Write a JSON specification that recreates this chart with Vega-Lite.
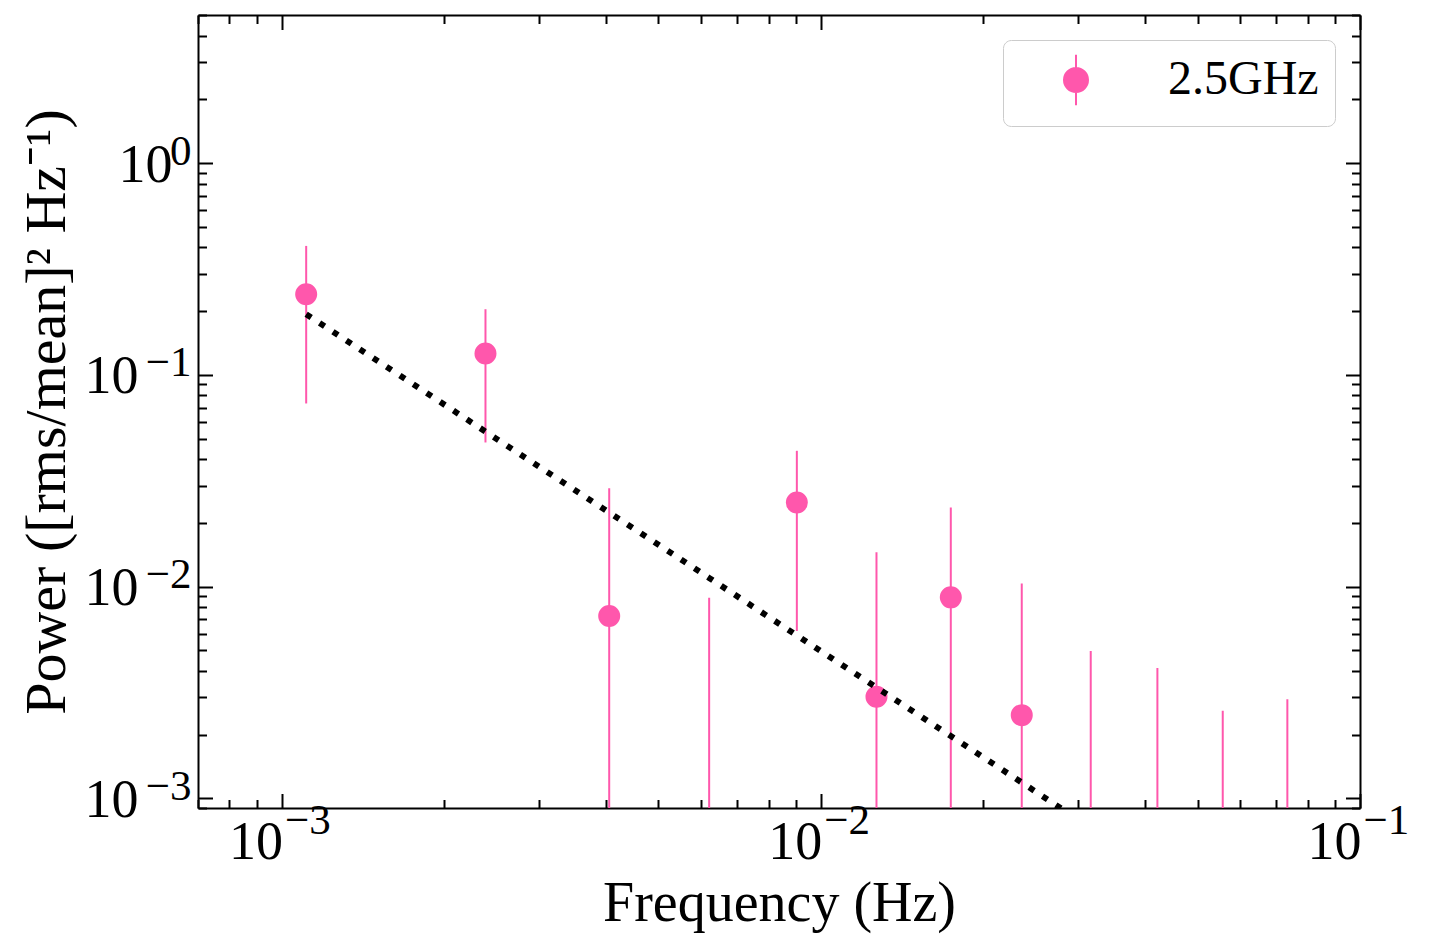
{
  "$schema": "https://vega.github.io/schema/vega-lite/v6.json",
  "autosize": {"type": "none"},
  "padding": {"left": 198, "top": 15, "right": 69, "bottom": 141},
  "width": 1162,
  "height": 793,
  "background": "white",
  "config": {
    "view": {"stroke": null},
    "axis": {
      "grid": false,
      "domainColor": "black",
      "domainWidth": 2,
      "tickColor": "black",
      "tickWidth": 2,
      "labelFont": "Liberation Serif",
      "labelColor": "black",
      "titleFont": "Liberation Serif",
      "titleColor": "black",
      "titleFontWeight": "normal",
      "labelOverlap": false,
      "labelFlush": false,
      "labelBound": false
    },
    "legend": {
      "orient": "top-right",
      "offset": 25,
      "padding": 16,
      "strokeColor": "#cccccc",
      "fillColor": "white",
      "cornerRadius": 8,
      "labelFont": "Liberation Serif",
      "labelFontSize": 48,
      "labelColor": "black",
      "labelLimit": 0,
      "symbolType": "M -1 0 A 1 1 0 1 0 1 0 A 1 1 0 1 0 -1 0 Z M 0 -2.1 L 0 2.1",
      "symbolSize": 576,
      "symbolStrokeWidth": 2,
      "symbolOffset": 33,
      "labelOffset": 68
    }
  },
  "data": {
    "values": [
      {"freq": 0.001111, "power": 0.240, "lo": 0.0732, "hi": 0.406, "model": 0.1932, "series": "2.5GHz"},
      {"freq": 0.002389, "power": 0.126, "lo": 0.0479, "hi": 0.204, "model": 0.05393, "series": "2.5GHz"},
      {"freq": 0.004052, "power": 0.00726, "lo": 0.0001, "hi": 0.0291, "model": 0.02236, "series": "2.5GHz"},
      {"freq": 0.006209, "power": null, "lo": 0.0001, "hi": 0.00886, "model": 0.01098, "series": "2.5GHz"},
      {"freq": 0.009029, "power": 0.02496, "lo": 0.00617, "hi": 0.04375, "model": 0.005883, "series": "2.5GHz"},
      {"freq": 0.012686, "power": 0.00302, "lo": 0.0001, "hi": 0.0145, "model": 0.003337, "series": "2.5GHz"},
      {"freq": 0.017424, "power": 0.00889, "lo": 0.0001, "hi": 0.02364, "model": 0.001967, "series": "2.5GHz"},
      {"freq": 0.02359, "power": 0.00247, "lo": 0.0001, "hi": 0.01035, "model": 0.001187, "series": "2.5GHz"},
      {"freq": 0.03167, "power": null, "lo": 0.0001, "hi": 0.00496, "model": 0.000726, "series": "2.5GHz"},
      {"freq": 0.0421, "power": null, "lo": 0.0001, "hi": 0.00412, "model": 0.000452, "series": "2.5GHz"},
      {"freq": 0.05565, "power": null, "lo": 0.0001, "hi": 0.00259, "model": 0.000284, "series": "2.5GHz"},
      {"freq": 0.07333, "power": null, "lo": 0.0001, "hi": 0.00294, "model": 0.000179, "series": "2.5GHz"}
    ]
  },
  "resolve": {"axis": {"x": "independent", "y": "independent"}},
  "layer": [
    {
      "mark": {"type": "rule", "color": "#FF57AC", "strokeWidth": 2, "clip": true},
      "encoding": {
        "x": {
          "field": "freq", "type": "quantitative",
          "scale": {"type": "log", "domain": [0.0007, 0.1], "nice": false},
          "axis": {
            "orient": "bottom",
            "values": [0.0007,0.0008,0.0009,0.001,0.002,0.003,0.004,0.005,0.006,0.007,0.008,0.009,0.01,0.02,0.03,0.04,0.05,0.06,0.07,0.08,0.09,0.1],
            "tickSize": {"condition": {"test": "abs(log(datum.value)/LN10 - round(log(datum.value)/LN10)) < 1e-6", "value": -14.5}, "value": -8.5},
            "labelExpr": "abs(log(datum.value)/LN10 - round(log(datum.value)/LN10)) < 1e-6 ? '10' : ''",
            "labelFontSize": 54,
            "labelAlign": "right",
            "labelBaseline": "alphabetic",
            "labelOffset": 1,
            "labelPadding": 64.5,
            "title": "Frequency (Hz)",
            "titleFontSize": 56,
            "titlePadding": 1
          }
        },
        "y": {
          "field": "hi", "type": "quantitative",
          "scale": {"type": "log", "domain": [0.0009, 5], "nice": false},
          "axis": {
            "orient": "left",
            "values": [0.0009,0.001,0.002,0.003,0.004,0.005,0.006,0.007,0.008,0.009,0.01,0.02,0.03,0.04,0.05,0.06,0.07,0.08,0.09,0.1,0.2,0.3,0.4,0.5,0.6,0.7,0.8,0.9,1,2,3,4,5],
            "tickSize": {"condition": {"test": "abs(log(datum.value)/LN10 - round(log(datum.value)/LN10)) < 1e-6", "value": -14.5}, "value": -8.5},
            "labelExpr": "abs(log(datum.value)/LN10 - round(log(datum.value)/LN10)) < 1e-6 ? '10' : ''",
            "labelFontSize": 54,
            "labelAlign": "right",
            "labelBaseline": "alphabetic",
            "labelOffset": 18,
            "labelPadding": {"condition": {"test": "abs(datum.value - 1) < 1e-9", "value": 40.5}, "value": 74.5},
            "title": "Power ([rms/mean]² Hz⁻¹)",
            "titleFontSize": 58,
            "titlePadding": 8
          }
        },
        "y2": {"field": "lo"}
      }
    },
    {
      "mark": {"type": "point", "filled": true, "size": 400, "strokeWidth": 2, "opacity": 1, "clip": true},
      "encoding": {
        "x": {
          "field": "freq", "type": "quantitative",
          "axis": {
            "orient": "bottom",
            "values": [0.001, 0.01, 0.1],
            "ticks": false, "tickSize": 0, "domain": false,
            "labelExpr": "round(log(datum.value)/LN10) < 0 ? '−' + abs(round(log(datum.value)/LN10)) : '' + round(log(datum.value)/LN10)",
            "labelFontSize": 43,
            "labelAlign": "left",
            "labelBaseline": "alphabetic",
            "labelOffset": 3,
            "labelPadding": 25,
            "title": null
          }
        },
        "y": {
          "field": "power", "type": "quantitative",
          "axis": {
            "orient": "left",
            "values": [0.001, 0.01, 0.1, 1],
            "ticks": false, "tickSize": 0, "domain": false,
            "labelExpr": "round(log(datum.value)/LN10) < 0 ? '−' + abs(round(log(datum.value)/LN10)) : '' + round(log(datum.value)/LN10)",
            "labelFontSize": 43,
            "labelAlign": "right",
            "labelBaseline": "alphabetic",
            "labelOffset": 1,
            "labelPadding": 7,
            "title": null
          }
        },
        "color": {
          "field": "series", "type": "nominal",
          "scale": {"range": ["#FF57AC"]},
          "legend": {"title": null}
        },
        "stroke": {
          "field": "series", "type": "nominal",
          "scale": {"range": ["#FF57AC"]},
          "legend": {"title": null}
        }
      }
    },
    {
      "mark": {"type": "line", "color": "black", "strokeWidth": 6, "strokeDash": [6, 10], "strokeCap": "butt", "clip": true},
      "encoding": {
        "x": {
          "field": "freq", "type": "quantitative",
          "axis": {
            "orient": "top",
            "values": [0.0007,0.0008,0.0009,0.001,0.002,0.003,0.004,0.005,0.006,0.007,0.008,0.009,0.01,0.02,0.03,0.04,0.05,0.06,0.07,0.08,0.09,0.1],
            "tickSize": {"condition": {"test": "abs(log(datum.value)/LN10 - round(log(datum.value)/LN10)) < 1e-6", "value": -14.5}, "value": -8.5},
            "labels": false,
            "title": null
          }
        },
        "y": {
          "field": "model", "type": "quantitative",
          "axis": {
            "orient": "right",
            "values": [0.0009,0.001,0.002,0.003,0.004,0.005,0.006,0.007,0.008,0.009,0.01,0.02,0.03,0.04,0.05,0.06,0.07,0.08,0.09,0.1,0.2,0.3,0.4,0.5,0.6,0.7,0.8,0.9,1,2,3,4,5],
            "tickSize": {"condition": {"test": "abs(log(datum.value)/LN10 - round(log(datum.value)/LN10)) < 1e-6", "value": -14.5}, "value": -8.5},
            "labels": false,
            "title": null
          }
        }
      }
    }
  ]
}
